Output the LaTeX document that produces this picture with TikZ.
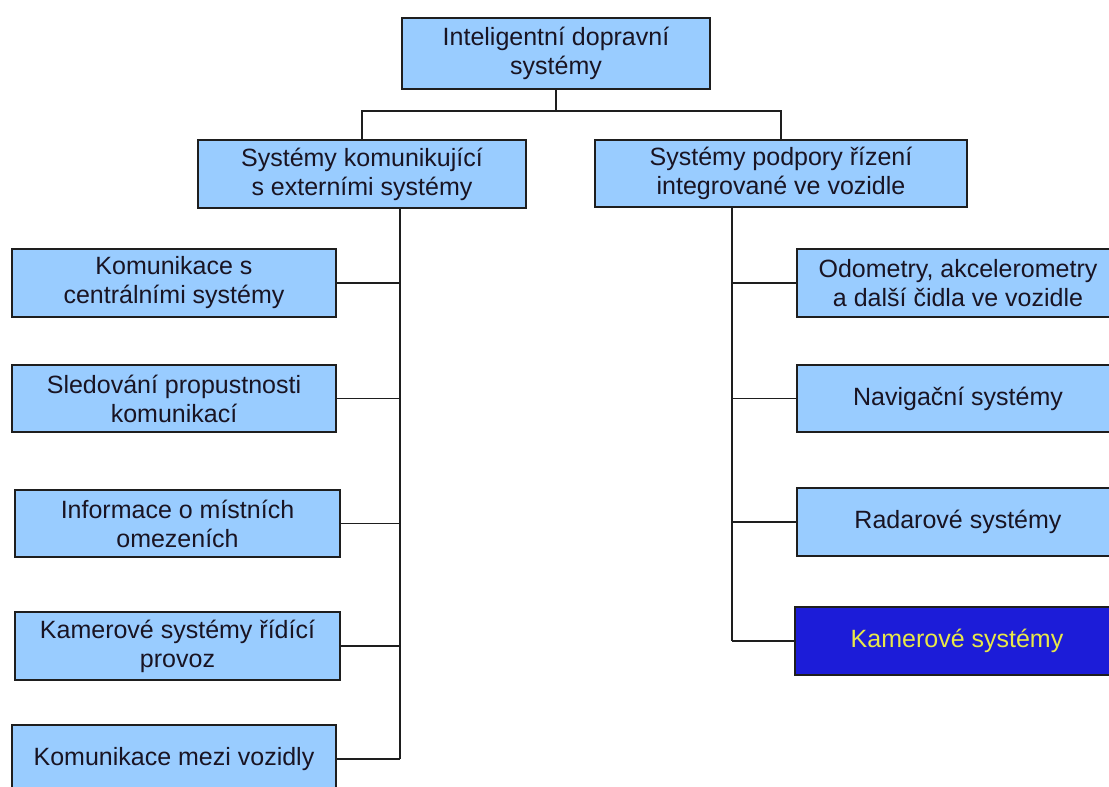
\documentclass[tikz,border=0pt]{standalone}
\usepackage{fontspec}
\setmainfont{Liberation Sans}
\definecolor{boxblue}{RGB}{153,204,255}
\definecolor{darkblue}{RGB}{28,28,216}
\definecolor{txtyellow}{RGB}{232,232,72}
\definecolor{linegray}{RGB}{30,30,30}
\definecolor{txtdark}{RGB}{25,20,35}
\begin{document}
\begin{tikzpicture}[x=1pt,y=-1pt,
  box/.style={draw=linegray, line width=1.6pt, fill=boxblue, align=center,
    inner sep=0pt, font=\fontsize{25}{29}\selectfont, text=txtdark},
  hot/.style={box, fill=darkblue, text=txtyellow},
  conn/.style={draw=linegray, line width=1.6pt}]
\clip (0,0) rectangle (1109,787);
\fill[white] (0,0) rectangle (1109,787);

\node[box, minimum width=308pt, minimum height=71pt] (top) at (556,53.5) {Inteligentní dopravní\\systémy};
\node[box, minimum width=328pt, minimum height=68pt] (lp) at (362,174) {Systémy komunikující\\s externími systémy};
\node[box, minimum width=372pt, minimum height=67pt] (rp) at (781,173.5) {Systémy podpory řízení\\integrované ve vozidle};

\node[box, minimum width=324pt, minimum height=68pt] (L1) at (174,283) {Komunikace s\\centrálními systémy};
\node[box, minimum width=324pt, minimum height=67pt] (L2) at (174,398.5) {Sledování propustnosti\\komunikací};
\node[box, minimum width=325pt, minimum height=67pt] (L3) at (177.5,523.5) {Informace o místních\\omezeních};
\node[box, minimum width=325pt, minimum height=68pt] (L4) at (177.5,646) {Kamerové systémy řídící\\provoz};
\node[box, minimum width=324pt, minimum height=68pt] (L5) at (174,759) {Komunikace mezi vozidly};

\node[box, minimum width=322pt, minimum height=68pt] (R1) at (958,283) {Odometry, akcelerometry\\a další čidla ve vozidle};
\node[box, minimum width=322pt, minimum height=67pt] (R2) at (958,398.5) {Navigační systémy};
\node[box, minimum width=322pt, minimum height=68pt] (R3) at (958,522) {Radarové systémy};
\node[hot, minimum width=324pt, minimum height=68pt] (R4) at (957,641) {Kamerové systémy};

\coordinate (busY) at (0,111);
\coordinate (lb) at (400,0);
\coordinate (rb) at (732,0);

\draw[conn] (top.south) -- (top.south |- busY);
\draw[conn] (lp.north) -- (lp.north |- busY) -- (rp.north |- busY) -- (rp.north);

\draw[conn] (lb |- lp.south) -- (lb |- L5.east);
\foreach \n in {L1,L2,L3,L4,L5} \draw[conn] (\n.east) -- (\n.east -| lb);

\draw[conn] (rb |- rp.south) -- (rb |- R4.west);
\foreach \n in {R1,R2,R3,R4} \draw[conn] (\n.west) -- (\n.west -| rb);
\end{tikzpicture}
\end{document}
